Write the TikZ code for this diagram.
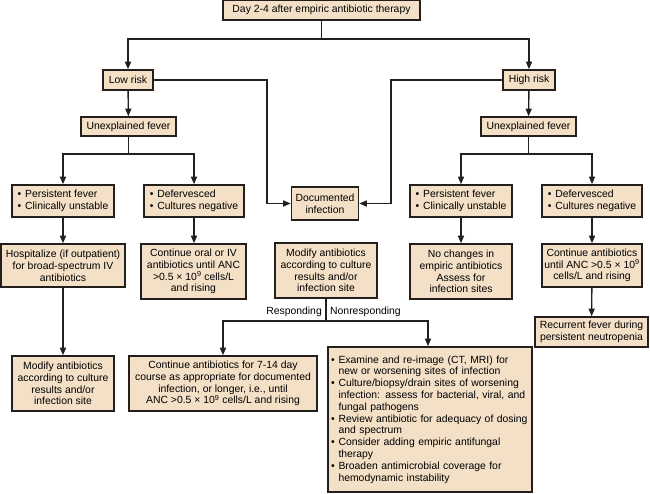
\documentclass[tikz,border=0pt]{standalone}
\usepackage{fontspec}
\setmainfont{Liberation Sans}
\usetikzlibrary{arrows.meta}
\definecolor{boxfill}{RGB}{243,224,199}
\definecolor{ink}{RGB}{35,31,28}
\newcommand{\bul}{\makebox[7.5pt][l]{\textbullet}}
\newcommand{\hng}{\hspace*{7.5pt}}
\newcommand{\tnine}{10\textsuperscript{9}}
\begin{document}
\begin{tikzpicture}[x=1pt,y=-1pt,
  box/.style={draw=ink,fill=boxfill,line width=1.6pt,inner sep=1pt,align=center,
    font=\fontsize{10.4}{11.8}\selectfont},
  lbl/.style={font=\fontsize{10.4}{11.8}\selectfont,inner sep=1pt},
  conn/.style={draw=ink,line width=1.4pt},
  arr/.style={conn,-{Triangle[length=7.5pt,width=6pt]}}]
\useasboundingbox (0,0) rectangle (650,493);
% nodes
\node[box,minimum width=197pt,minimum height=20pt] (top) at (321.5,10) {Day 2-4 after empiric antibiotic therapy};
\node[box,minimum width=50pt,minimum height=20pt] (low) at (128,80) {Low risk};
\node[box,minimum width=52pt,minimum height=20pt] (high) at (529,80) {High risk};
\node[box,minimum width=95pt,minimum height=19pt] (ufL) at (128.5,126.5) {Unexplained fever};
\node[box,minimum width=95pt,minimum height=19pt] (ufR) at (528.5,126.5) {Unexplained fever};
\node[box,minimum width=102pt,minimum height=32pt,align=left] (pfL) at (63,201) {\bul Persistent fever\\\bul Clinically unstable};
\node[box,minimum width=100pt,minimum height=32pt,align=left] (dfL) at (194,201) {\bul Defervesced\\\bul Cultures negative};
\node[box,minimum width=67pt,minimum height=33pt] (doc) at (325,203.5) {Documented\\infection};
\node[box,minimum width=102pt,minimum height=32pt,align=left] (pfR) at (461,201) {\bul Persistent fever\\\bul Clinically unstable};
\node[box,minimum width=100pt,minimum height=32pt,align=left] (dfR) at (592,201) {\bul Defervesced\\\bul Cultures negative};
\node[box,minimum width=124pt,minimum height=43pt] (hosp) at (63,265.5) {Hospitalize (if outpatient)\\for broad-spectrum IV\\antibiotics};
\node[box,minimum width=105pt,minimum height=55pt] (cor) at (193.5,271.5) {Continue oral or IV\\antibiotics until ANC\\>0.5 × \tnine{} cells/L\\and rising};
\node[box,minimum width=102pt,minimum height=55pt] (modC) at (326,270.5) {Modify antibiotics\\according to culture\\results and/or\\infection site};
\node[box,minimum width=102pt,minimum height=55pt] (noch) at (461,271.5) {No changes in\\empiric antibiotics\\Assess for\\infection sites};
\node[box,minimum width=100pt,minimum height=43pt] (contR) at (592,265.5) {Continue antibiotics\\until ANC >0.5 × \tnine\\cells/L and rising};
\node[box,minimum width=113pt,minimum height=30pt] (rec) at (591.5,332) {Recurrent fever during\\persistent neutropenia};
\node[box,minimum width=102pt,minimum height=55pt] (modL) at (63,383.5) {Modify antibiotics\\according to culture\\results and/or\\infection site};
\node[box,minimum width=188pt,minimum height=55pt] (c714) at (223,383.5) {Continue antibiotics for 7-14 day\\course as appropriate for documented\\infection, or longer, i.e., until\\ANC >0.5 × \tnine{} cells/L and rising};
\node[box,minimum width=204pt,minimum height=145pt,align=left,text width=198pt] (big) at (430,419.5) {\bul Examine and re-image (CT, MRI) for\\\hng new or worsening sites of infection\\\bul Culture/biopsy/drain sites of worsening\\\hng infection: assess for bacterial, viral, and\\\hng fungal pathogens\\\bul Review antibiotic for adequacy of dosing\\\hng and spectrum\\\bul Consider adding empiric antifungal\\\hng therapy\\\bul Broaden antimicrobial coverage for\\\hng hemodynamic instability};
% coordinates
\coordinate (tj) at (321.5,39);
\coordinate (lj) at (267,80);
\coordinate (hj) at (391,80);
\coordinate (ufLj) at (128.5,154);
\coordinate (ufRj) at (528.5,154);
\coordinate (mj) at (326,321);
% connectors
\draw[conn] (top.south) -- (tj);
\draw[arr] (tj) -| (low.north);
\draw[arr] (tj) -| (high.north);
\draw[arr] (low) -- (ufL);
\draw[arr] (high) -- (ufR);
\draw[conn] (ufL.south) -- (ufLj);
\draw[arr] (ufLj) -| (pfL.north);
\draw[arr] (ufLj) -| (dfL.north);
\draw[conn] (ufR.south) -- (ufRj);
\draw[arr] (ufRj) -| (pfR.north);
\draw[arr] (ufRj) -| (dfR.north);
\draw[arr] (low.east) -- (lj) |- (doc.west);
\draw[arr] (high.west) -- (hj) |- (doc.east);
\draw[arr] (pfL) -- (hosp);
\draw[arr] (dfL.south) -- (dfL.south |- cor.north);
\draw[arr] (pfR) -- (noch);
\draw[arr] (dfR) -- (contR);
\draw[arr] (contR) -- (rec);
\draw[arr] (hosp) -- (modL);
\draw[conn] (modC.south) -- (mj);
\draw[arr] (mj) -| (c714.north);
\draw[arr] (mj) -| ([xshift=-2pt]big.north);
\node[lbl,anchor=east] (resp) at (323,312) {Responding};
\node[lbl,anchor=west] (nonr) at (329,312) {Nonresponding};
\end{tikzpicture}
\end{document}
